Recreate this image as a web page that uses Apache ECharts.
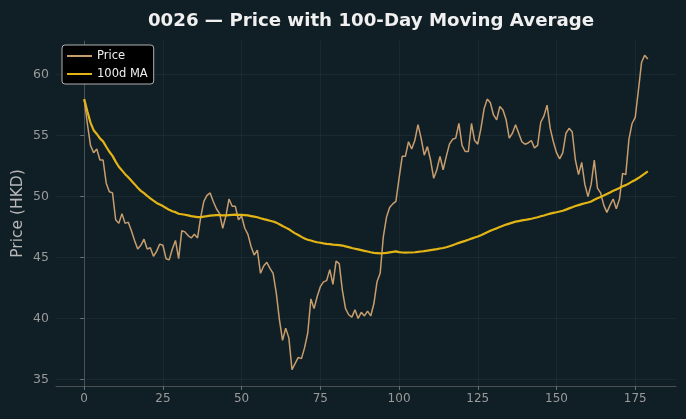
<!DOCTYPE html>
<html>
<head>
<meta charset="utf-8">
<script src="https://cdn.jsdelivr.net/npm/echarts@6/dist/echarts.min.js"></script>
<style>
  html, body { margin: 0; padding: 0; background: #101f26; }
  #chart { width: 686px; height: 419px; }
</style>
</head>
<body>
<div id="chart"></div>
<script>
// daily close, day 0..179 (HKD)
const price = [
  58.0, 56.0, 54.2, 53.6, 53.9, 53.0, 53.0, 51.1, 50.4, 50.3,
  48.1, 47.8, 48.6, 47.8, 47.9, 47.2, 46.4, 45.7, 46.0, 46.5,
  45.7, 45.8, 45.1, 45.5, 46.1, 46.0, 44.9, 44.8, 45.7, 46.4,
  44.9, 47.2, 47.1, 46.8, 46.6, 46.9, 46.6, 48.3, 49.6, 50.1,
  50.3, 49.6, 49.0, 48.6, 47.4, 48.4, 49.8, 49.2, 49.2, 48.1,
  48.4, 47.4, 46.9, 45.9, 45.2, 45.6, 43.7, 44.3, 44.6, 44.1,
  43.7, 42.1, 39.9, 38.2, 39.2, 38.4, 35.8, 36.3, 36.8, 36.7,
  37.6, 38.8, 41.6, 40.8, 41.8, 42.6, 43.0, 43.1, 44.0, 42.8,
  44.7, 44.5, 42.3, 40.8, 40.3, 40.1, 40.7, 40.0, 40.5, 40.2,
  40.6, 40.2, 41.2, 43.0, 43.7, 46.7, 48.3, 49.1, 49.4, 49.6,
  51.5, 53.3, 53.3, 54.5, 53.9, 54.6, 55.9, 54.8, 53.4, 54.1,
  53.0, 51.5, 52.2, 53.3, 52.2, 53.3, 54.3, 54.7, 54.8, 56.0,
  54.2, 53.7, 53.7, 56.0, 54.6, 54.3, 55.6, 57.2, 58.0, 57.7,
  56.7, 56.3, 57.4, 57.1, 56.3, 54.8, 55.2, 55.9, 55.2, 54.5,
  54.3, 54.4, 54.6, 54.0, 54.2, 56.1, 56.6, 57.5, 55.6, 54.5,
  53.6, 53.1, 53.6, 55.2, 55.6, 55.3, 53.0, 51.8, 52.8, 51.0,
  50.0, 51.0, 53.0, 50.7, 50.3, 49.3, 48.7, 49.3, 49.8, 49.0,
  49.8, 51.9, 51.8, 54.7, 56.0, 56.5, 58.7, 61.0, 61.6, 61.3
]

// 100-day moving average as plotted
const ma100 = [
  58.00, 57.00, 56.07, 55.45, 55.14, 54.78, 54.53, 54.09, 53.68, 53.34,
  52.87, 52.45, 52.15, 51.84, 51.58, 51.30, 51.02, 50.72, 50.47, 50.28,
  50.06, 49.86, 49.66, 49.48, 49.35, 49.22, 49.06, 48.91, 48.80, 48.72,
  48.59, 48.55, 48.51, 48.46, 48.40, 48.36, 48.31, 48.31, 48.35, 48.39,
  48.44, 48.46, 48.48, 48.48, 48.46, 48.45, 48.48, 48.50, 48.51, 48.50,
  48.50, 48.48, 48.45, 48.40, 48.35, 48.30, 48.22, 48.15, 48.09, 48.02,
  47.95, 47.86, 47.73, 47.58, 47.45, 47.32, 47.14, 46.98, 46.84, 46.69,
  46.56, 46.46, 46.39, 46.31, 46.25, 46.21, 46.16, 46.12, 46.10, 46.06,
  46.04, 46.02, 45.98, 45.91, 45.85, 45.78, 45.72, 45.66, 45.60, 45.54,
  45.49, 45.43, 45.38, 45.36, 45.34, 45.35, 45.38, 45.42, 45.46, 45.50,
  45.44, 45.41, 45.40, 45.41, 45.41, 45.43, 45.46, 45.49, 45.52, 45.56,
  45.61, 45.65, 45.68, 45.74, 45.78, 45.84, 45.92, 46.01, 46.10, 46.20,
  46.28, 46.36, 46.45, 46.55, 46.64, 46.72, 46.83, 46.95, 47.07, 47.19,
  47.30, 47.39, 47.50, 47.60, 47.70, 47.78, 47.86, 47.94, 47.99, 48.04,
  48.08, 48.13, 48.18, 48.24, 48.30, 48.38, 48.45, 48.53, 48.60, 48.66,
  48.71, 48.77, 48.84, 48.93, 49.03, 49.13, 49.22, 49.30, 49.38, 49.45,
  49.51, 49.60, 49.73, 49.86, 49.97, 50.08, 50.21, 50.34, 50.47, 50.59,
  50.71, 50.84, 50.94, 51.08, 51.23, 51.36, 51.52, 51.70, 51.88, 52.06
]

const xTicks = [0, 25, 50, 75, 100, 125, 150, 175]
const yTicks = [35, 40, 45, 50, 55, 60]

const days = price.map((v, i) => i)

const gridLine = { show: true, lineStyle: { color: 'rgba(255,255,255,0.045)', width: 1 } }
const axisLine = { show: true, lineStyle: { color: '#4a4f52', width: 1 } }

const chart = echarts.init(document.getElementById('chart'), null, { renderer: 'canvas' })

chart.setOption({
  animation: false,
  backgroundColor: '#101f26',
  textStyle: { fontFamily: 'DejaVu Sans' },
  title: {
    text: '0026 — Price with 100-Day Moving Average',
    left: 366,
    textAlign: 'center',
    top: 7,
    textStyle: { color: '#f0f0f0', fontSize: 18.2, fontWeight: 'bold', fontFamily: 'DejaVu Sans' }
  },
  grid: { left: 56, right: 10, top: 41, bottom: 33, outerBoundsMode: 'none', containLabel: false },
  legend: {
    left: 62,
    top: 45,
    orient: 'vertical',
    backgroundColor: '#000000',
    borderColor: '#b0b0b0',
    borderWidth: 1,
    borderRadius: 3,
    padding: [5, 6, 4, 5],
    itemWidth: 25,
    itemHeight: 2,
    itemGap: 6,
    textStyle: { color: '#f0f0f0', fontSize: 11.5, fontFamily: 'DejaVu Sans' },
    data: [
      { name: 'Price', icon: 'rect' },
      { name: '100d MA', icon: 'rect' }
    ]
  },
  xAxis: {
    type: 'value',
    min: -8.95,
    max: 187.95,
    axisLine: axisLine,
    axisTick: { show: true, length: 4, customValues: xTicks, lineStyle: { color: '#6a6f72' } },
    axisLabel: { customValues: xTicks, color: '#9a9a9a', fontSize: 12, margin: 7 },
    splitLine: gridLine
  },
  yAxis: {
    type: 'value',
    min: 34.45,
    max: 62.77,
    name: 'Price (HKD)',
    nameLocation: 'middle',
    nameGap: 30,
    nameMoveOverlap: false,
    nameTextStyle: { color: '#b8b8b8', fontSize: 15.5 },
    axisLine: axisLine,
    axisTick: { show: true, length: 4, customValues: yTicks, lineStyle: { color: '#6a6f72' } },
    axisLabel: { customValues: yTicks, color: '#9a9a9a', fontSize: 12.5, margin: 7 },
    splitLine: gridLine
  },
  series: [
    {
      name: 'Price',
      type: 'line',
      showSymbol: false,
      data: days.map(i => [i, price[i]]),
      itemStyle: { color: '#c79d6e' },
      lineStyle: { color: '#c79d6e', width: 1.5 },
      z: 2
    },
    {
      name: '100d MA',
      type: 'line',
      showSymbol: false,
      data: days.map(i => [i, ma100[i]]),
      itemStyle: { color: '#e2b416' },
      lineStyle: { color: '#e2b416', width: 2.2 },
      z: 3
    }
  ]
})
</script>
</body>
</html>
